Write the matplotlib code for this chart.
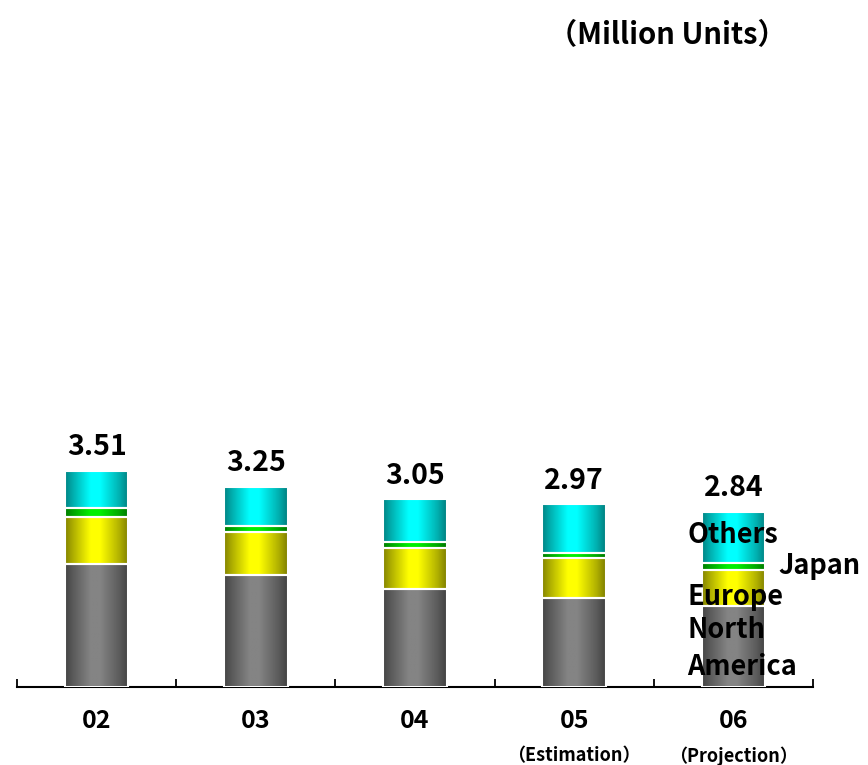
import numpy as np
import matplotlib.pyplot as plt

plt.rcParams['font.family'] = ['Noto Sans CJK JP', 'DejaVu Sans']

years = ["02", "03", "04", "05", "06"]
notes = ["", "", "", "（Estimation）", "（Projection）"]
totals = [3.51, 3.25, 3.05, 2.97, 2.84]

north_america = [2.00, 1.82, 1.59, 1.44, 1.31]
europe = [0.76, 0.70, 0.67, 0.65, 0.60]
japan = [0.15, 0.09, 0.10, 0.09, 0.10]
others = [0.60, 0.64, 0.69, 0.79, 0.83]

regions = [north_america, europe, japan, others]
# brightest colour at the middle of each cylinder
colors = ["#848484", "#ffff00", "#00f000", "#00ffff"]


def shade(hexcol, n=80):
    rgb = np.array([int(hexcol[i:i + 2], 16) for i in (1, 3, 5)]) / 255
    t = np.linspace(0, 1, n)
    f = np.interp(t, [0, 0.12, 0.4, 0.55, 0.85, 1], [0.52, 0.68, 1, 1, 0.7, 0.5])
    return (f[:, None] * rgb[None, :])[None, :, :]


fig = plt.figure(figsize=(8.68, 7.65), dpi=100)
ax = fig.add_axes([17 / 868, 78 / 765, 796 / 868, 615 / 765])

x = np.arange(len(years))
width = 0.4
bottom = np.zeros(len(years))
for vals, col in zip(regions, colors):
    bars = ax.bar(x, vals, width, bottom=bottom, facecolor="none",
                  edgecolor="white", linewidth=1.5, zorder=3)
    for b in bars:
        x0, y0 = b.get_x(), b.get_y()
        im = ax.imshow(shade(col), extent=(x0, x0 + b.get_width(), y0, y0 + b.get_height()),
                       aspect="auto", interpolation="bilinear", zorder=2)
        im.set_clip_path(b)
    bottom += np.array(vals)

for xi, tot in zip(x, totals):
    ax.text(xi, tot + 0.16, f"{tot:.2f}", ha="center", va="bottom",
            fontsize=20.5, fontweight="bold")

# region names next to the last bar
lx = x[-1] - 0.29
kw = dict(ha="left", va="center", fontsize=19.5, fontweight="bold", zorder=5)
ax.text(lx, 2.47, "Others", **kw)
ax.text(x[-1] + 0.28, 1.97, "Japan", **kw)
ax.text(lx, 1.46, "Europe", **kw)
ax.text(lx, 0.92, "North", **kw)
ax.text(lx, 0.33, "America", **kw)

ax.set_xlim(-0.5, len(years) - 0.5)
ax.set_ylim(0, 10)
for s in ["left", "right", "top"]:
    ax.spines[s].set_visible(False)
ax.spines["bottom"].set_linewidth(1.5)
ax.set_yticks([])
ax.set_xticks(np.arange(len(years) + 1) - 0.5)
ax.set_xticklabels([])
ax.tick_params(axis="x", direction="in", length=6, width=1.3)

for xi, yr, note in zip(x, years, notes):
    ax.text(xi, -0.56, yr, ha="center", va="center", fontsize=18, fontweight="bold")
    if note:
        ax.text(xi, -1.12, note, ha="center", va="center", fontsize=13, fontweight="bold")

fig.text(667 / 868, 1 - 35 / 765, "（Million Units）", ha="center", va="center",
         fontsize=21, fontweight="bold")

fig.savefig("out.png", dpi=100)
